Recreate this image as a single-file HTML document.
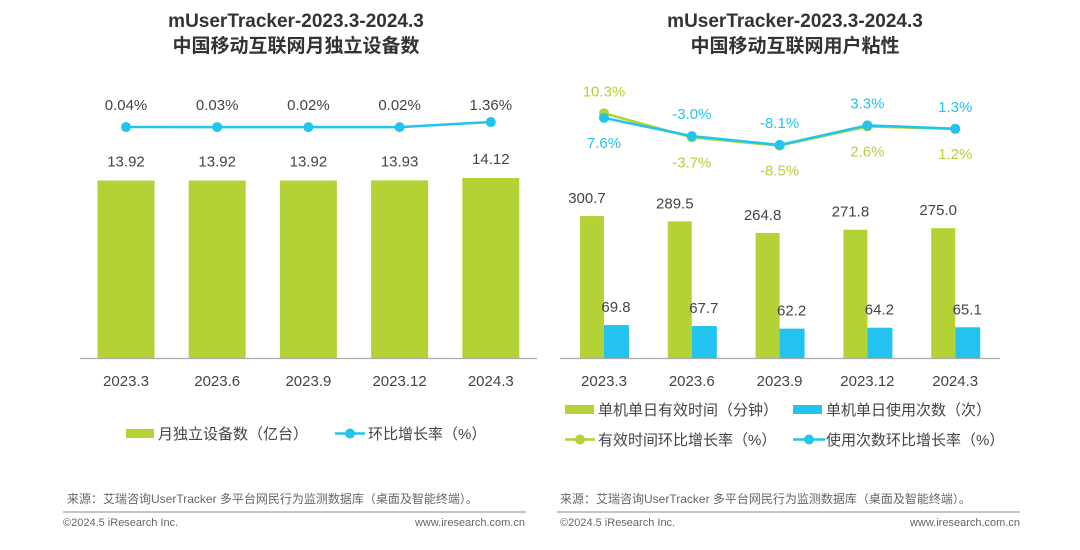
<!DOCTYPE html>
<html><head><meta charset="utf-8"><style>
body{margin:0;width:1080px;height:545px;background:#fff;overflow:hidden;font-family:"Liberation Sans","Noto Sans CJK SC",sans-serif}
svg text{font-family:"Liberation Sans","Noto Sans CJK SC",sans-serif}
</style></head><body>
<svg id="s" width="1080" height="545">
<g font-weight="bold" font-size="19" fill="#333" text-anchor="middle">
<text x="296" y="27">mUserTracker-2023.3-2024.3</text>
<text x="296" y="52">中国移动互联网月独立设备数</text></g>
<g font-weight="bold" font-size="19" fill="#333" text-anchor="middle">
<text x="795" y="27">mUserTracker-2023.3-2024.3</text>
<text x="795" y="52">中国移动互联网用户粘性</text></g>
<line x1="80" y1="358.5" x2="537" y2="358.5" stroke="#aaa" stroke-width="1.2"/>
<line x1="560" y1="358.5" x2="1000" y2="358.5" stroke="#aaa" stroke-width="1.2"/>
<g id="L"></g><g id="R"></g>
<g font-size="15" fill="#444">
<rect x="126" y="429" width="28" height="9" fill="#b2d235"/><text x="158" y="439">月独立设备数（亿台）</text>
<line x1="335" y1="433.5" x2="365" y2="433.5" stroke="#22c3ee" stroke-width="2.5"/><circle cx="350" cy="433.5" r="5" fill="#22c3ee"/><text x="368" y="439">环比增长率（%）</text></g>
<g font-size="15" fill="#444">
<rect x="565" y="405" width="29" height="9" fill="#b2d235"/><text x="598" y="415">单机单日有效时间（分钟）</text>
<rect x="793" y="405" width="29" height="9" fill="#22c3ee"/><text x="826" y="415">单机单日使用次数（次）</text>
<line x1="565" y1="439.5" x2="595" y2="439.5" stroke="#b2d235" stroke-width="2.5"/><circle cx="580" cy="439.5" r="5" fill="#b2d235"/><text x="598" y="445">有效时间环比增长率（%）</text>
<line x1="793" y1="439.5" x2="825" y2="439.5" stroke="#22c3ee" stroke-width="2.5"/><circle cx="809" cy="439.5" r="5" fill="#22c3ee"/><text x="826" y="445">使用次数环比增长率（%）</text></g>
<g fill="#666">
<text x="67" y="503" font-size="12">来源：艾瑞咨询UserTracker 多平台网民行为监测数据库（桌面及智能终端）。</text>
<line x1="63" y1="512" x2="526" y2="512" stroke="#888"/>
<text x="63" y="526" font-size="11">©2024.5 iResearch Inc.</text>
<text x="525" y="526" font-size="11" text-anchor="end">www.iresearch.com.cn</text>
<text x="560" y="503" font-size="12">来源：艾瑞咨询UserTracker 多平台网民行为监测数据库（桌面及智能终端）。</text>
<line x1="557" y1="512" x2="1020" y2="512" stroke="#888"/>
<text x="560" y="526" font-size="11">©2024.5 iResearch Inc.</text>
<text x="1020" y="526" font-size="11" text-anchor="end">www.iresearch.com.cn</text></g>
</svg>
<script>
const categories=["2023.3","2023.6","2023.9","2023.12","2024.3"];
const devices=[13.92,13.92,13.92,13.93,14.12];
const deviceGrowth=[0.04,0.03,0.02,0.02,1.36];
const timeMinutes=[300.7,289.5,264.8,271.8,275.0];
const useCount=[69.8,67.7,62.2,64.2,65.1];
const timeGrowth=[10.3,-3.7,-8.5,2.6,1.2];
const countGrowth=[7.6,-3.0,-8.1,3.3,1.3];
const NS="http://www.w3.org/2000/svg";
const G="#b2d235",B="#22c3ee";
function el(p,t,a,txt){const e=document.createElementNS(NS,t);for(const k in a)e.setAttribute(k,a[k]);if(txt!==undefined)e.textContent=txt;p.appendChild(e);return e;}
const L=document.getElementById('L'),R=document.getElementById('R');
// left
const lx=i=>126+i*91.2, ly=v=>358-v*12.75, lg=v=>127.2-v*3.8;
devices.forEach((v,i)=>{
 const r=el(L,'rect',{x:lx(i)-28.5,y:ly(v),width:57,height:358-ly(v),fill:G});
 
 
 const t=el(L,'text',{x:lx(i),y:ly(v)-14,'font-size':15,fill:'#444','text-anchor':'middle'},v.toFixed(2));
 
 
 const c=el(L,'text',{x:lx(i),y:386,'font-size':15,fill:'#444','text-anchor':'middle'},categories[i]);
 
 
});
const lp=el(L,'polyline',{points:deviceGrowth.map((v,i)=>lx(i)+','+lg(v)).join(' '),fill:'none',stroke:B,'stroke-width':2.5});


deviceGrowth.forEach((v,i)=>{
 const c=el(L,'circle',{cx:lx(i),cy:lg(v),r:5,fill:B});
 
 
 const t=el(L,'text',{x:lx(i),y:110,'font-size':15,fill:'#444','text-anchor':'middle'},v.toFixed(2)+'%');
 
 
});
// right
const rx=i=>604+i*87.8, ry=v=>358-v*0.472, rg=v=>131-v*1.72;
categories.forEach((c,i)=>{
 const a=el(R,'rect',{x:rx(i)-24,y:ry(timeMinutes[i]),width:24,height:358-ry(timeMinutes[i]),fill:G});
 
 
 const b=el(R,'rect',{x:rx(i),y:ry(useCount[i]),width:25,height:358-ry(useCount[i]),fill:B});
 
 
 const t1=el(R,'text',{x:rx(i)-17,y:ry(timeMinutes[i])-13,'font-size':15,fill:'#444','text-anchor':'middle'},timeMinutes[i].toFixed(1));
 
 
 const t2=el(R,'text',{x:rx(i)+12,y:ry(useCount[i])-13,'font-size':15,fill:'#444','text-anchor':'middle'},useCount[i].toFixed(1));
 
 
 const x=el(R,'text',{x:rx(i),y:386,'font-size':15,fill:'#444','text-anchor':'middle'},c);
 
 
});
[[timeGrowth,G,'time-growth',1],[countGrowth,B,'count-growth',0]].forEach(([arr,col,nm,idx])=>{
 const p=el(R,'polyline',{points:arr.map((v,i)=>rx(i)+','+rg(v)).join(' '),fill:'none',stroke:col,'stroke-width':2.5});
 
 
 arr.forEach((v,i)=>{
  const c=el(R,'circle',{cx:rx(i),cy:rg(v),r:5,fill:col});
  
  
  const other=(idx?countGrowth:timeGrowth)[i];
  const above=v>=other;
  const y=above?rg(v)-17:rg(v)+30;
  const t=el(R,'text',{x:rx(i),y:y,'font-size':15,fill:col,'text-anchor':'middle'},v.toFixed(1)+'%');
  
  
 });
});
</script>
</body></html>
